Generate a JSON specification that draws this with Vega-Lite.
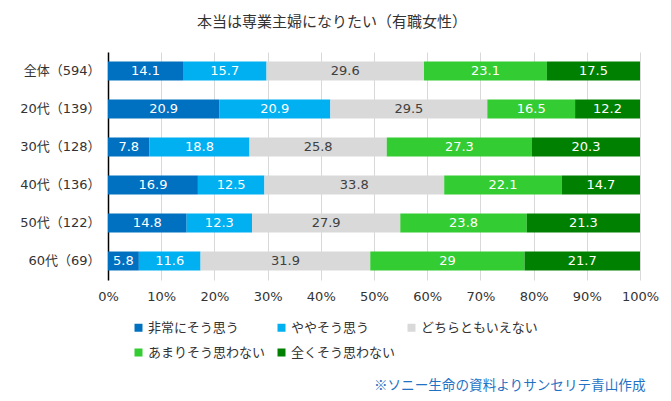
{
  "$schema": "https://vega.github.io/schema/vega-lite/v6.json",
  "width": 532,
  "height": 228,
  "autosize": {"type": "none"},
  "padding": {"left": 108, "top": 52, "right": 31, "bottom": 121},
  "background": "white",
  "title": {
    "text": "本当は専業主婦になりたい（有職女性）",
    "font": "Noto Sans CJK JP",
    "fontSize": 15,
    "fontWeight": "normal",
    "color": "#333333",
    "anchor": "middle",
    "frame": "group",
    "dx": -42,
    "offset": 22
  },
  "config": {
    "view": {"stroke": null},
    "font": "Noto Sans CJK JP",
    "text": {"font": "DejaVu Sans, Noto Sans CJK JP"}
  },
  "data": {
    "values": [
      {"cat": "全体（594）", "resp": "非常にそう思う", "ord": 1, "v": 14.1},
      {"cat": "全体（594）", "resp": "ややそう思う", "ord": 2, "v": 15.7},
      {"cat": "全体（594）", "resp": "どちらともいえない", "ord": 3, "v": 29.6},
      {"cat": "全体（594）", "resp": "あまりそう思わない", "ord": 4, "v": 23.1},
      {"cat": "全体（594）", "resp": "全くそう思わない", "ord": 5, "v": 17.5},
      {"cat": "20代（139）", "resp": "非常にそう思う", "ord": 1, "v": 20.9},
      {"cat": "20代（139）", "resp": "ややそう思う", "ord": 2, "v": 20.9},
      {"cat": "20代（139）", "resp": "どちらともいえない", "ord": 3, "v": 29.5},
      {"cat": "20代（139）", "resp": "あまりそう思わない", "ord": 4, "v": 16.5},
      {"cat": "20代（139）", "resp": "全くそう思わない", "ord": 5, "v": 12.2},
      {"cat": "30代（128）", "resp": "非常にそう思う", "ord": 1, "v": 7.8},
      {"cat": "30代（128）", "resp": "ややそう思う", "ord": 2, "v": 18.8},
      {"cat": "30代（128）", "resp": "どちらともいえない", "ord": 3, "v": 25.8},
      {"cat": "30代（128）", "resp": "あまりそう思わない", "ord": 4, "v": 27.3},
      {"cat": "30代（128）", "resp": "全くそう思わない", "ord": 5, "v": 20.3},
      {"cat": "40代（136）", "resp": "非常にそう思う", "ord": 1, "v": 16.9},
      {"cat": "40代（136）", "resp": "ややそう思う", "ord": 2, "v": 12.5},
      {"cat": "40代（136）", "resp": "どちらともいえない", "ord": 3, "v": 33.8},
      {"cat": "40代（136）", "resp": "あまりそう思わない", "ord": 4, "v": 22.1},
      {"cat": "40代（136）", "resp": "全くそう思わない", "ord": 5, "v": 14.7},
      {"cat": "50代（122）", "resp": "非常にそう思う", "ord": 1, "v": 14.8},
      {"cat": "50代（122）", "resp": "ややそう思う", "ord": 2, "v": 12.3},
      {"cat": "50代（122）", "resp": "どちらともいえない", "ord": 3, "v": 27.9},
      {"cat": "50代（122）", "resp": "あまりそう思わない", "ord": 4, "v": 23.8},
      {"cat": "50代（122）", "resp": "全くそう思わない", "ord": 5, "v": 21.3},
      {"cat": "60代（69）", "resp": "非常にそう思う", "ord": 1, "v": 5.8},
      {"cat": "60代（69）", "resp": "ややそう思う", "ord": 2, "v": 11.6},
      {"cat": "60代（69）", "resp": "どちらともいえない", "ord": 3, "v": 31.9},
      {"cat": "60代（69）", "resp": "あまりそう思わない", "ord": 4, "v": 29},
      {"cat": "60代（69）", "resp": "全くそう思わない", "ord": 5, "v": 21.7}
    ]
  },
  "transform": [
    {"stack": "v", "groupby": ["cat"], "sort": [{"field": "ord", "order": "ascending"}], "offset": "normalize", "as": ["v0", "v1"]},
    {"calculate": "(datum.v0 + datum.v1) / 2", "as": "vmid"}
  ],
  "encoding": {
    "y": {
      "field": "cat",
      "type": "nominal",
      "sort": ["全体（594）", "20代（139）", "30代（128）", "40代（136）", "50代（122）", "60代（69）"],
      "scale": {"paddingInner": 0.5, "paddingOuter": 0.25},
      "axis": {
        "title": null,
        "ticks": false,
        "domainColor": "#000000",
        "domainWidth": 1.5,
        "labelFont": "DejaVu Sans, Noto Sans CJK JP",
        "labelFontSize": 13,
        "labelColor": "#333333",
        "labelPadding": 8
      }
    }
  },
  "layer": [
    {
      "mark": {"type": "bar"},
      "encoding": {
        "x": {
          "field": "v0",
          "type": "quantitative",
          "scale": {"domain": [0, 1], "nice": false},
          "axis": {
            "format": ".0%",
            "values": [0, 0.1, 0.2, 0.3, 0.4, 0.5, 0.6, 0.7, 0.8, 0.9, 1],
            "labelOverlap": false,
            "labelFlush": false,
            "grid": true,
            "gridColor": "#d9d9d9",
            "gridWidth": 1,
            "domain": false,
            "ticks": false,
            "labelFont": "DejaVu Sans",
            "labelFontSize": 13,
            "labelColor": "#333333",
            "labelPadding": 10,
            "title": "※ソニー生命の資料よりサンセリテ青山作成",
            "titleFont": "Noto Sans CJK JP",
            "titleFontSize": 13.6,
            "titleFontWeight": "normal",
            "titleColor": "#1F72C4",
            "titleAnchor": "end",
            "titleAlign": "right",
            "titleBaseline": "middle",
            "titleX": 537,
            "titleY": 105
          }
        },
        "x2": {"field": "v1"},
        "color": {
          "field": "resp",
          "type": "nominal",
          "scale": {
            "domain": ["非常にそう思う", "ややそう思う", "どちらともいえない", "あまりそう思わない", "全くそう思わない"],
            "range": ["#0070C0", "#00B0F0", "#D9D9D9", "#33CC33", "#008000"]
          },
          "legend": {
            "title": null,
            "orient": "none",
            "legendX": 24,
            "legendY": 269,
            "direction": "horizontal",
            "columns": 3,
            "gridAlign": "each",
            "columnPadding": 9,
            "rowPadding": 11,
            "symbolType": "square",
            "symbolSize": 64,
            "symbolStrokeWidth": 0,
            "labelFont": "Noto Sans CJK JP",
            "labelFontSize": 13,
            "labelColor": "#333333",
            "labelOffset": 3,
            "labelLimit": 200
          }
        }
      }
    },
    {
      "mark": {"type": "text", "fontSize": 13, "align": "center", "baseline": "middle"},
      "encoding": {
        "x": {"field": "vmid", "type": "quantitative"},
        "text": {"field": "v", "type": "quantitative"},
        "color": {
          "condition": {"test": "datum.ord == 3", "value": "#404040"},
          "value": "#ffffff"
        }
      }
    }
  ]
}
